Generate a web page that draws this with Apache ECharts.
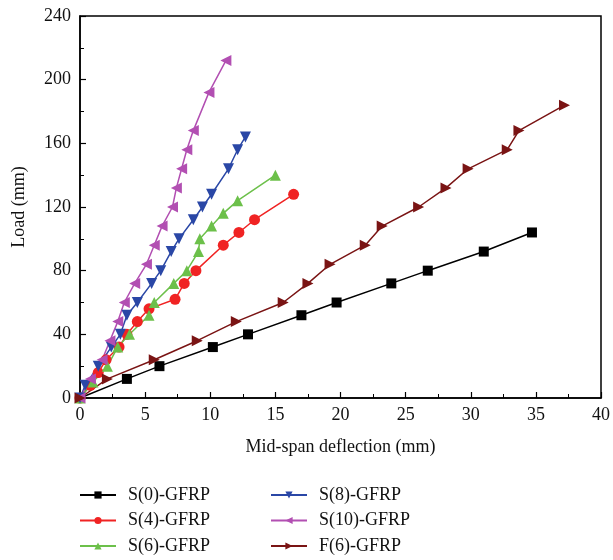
<!DOCTYPE html>
<html><head><meta charset="utf-8">
<script src="https://cdn.jsdelivr.net/npm/echarts@6/dist/echarts.min.js"></script>
<style>html,body{margin:0;padding:0;background:#fff}#c{width:613px;height:560px}</style>
</head><body><div id="c"></div>
<script>
const seriesNames = ['S(0)-GFRP','S(4)-GFRP','S(6)-GFRP','S(8)-GFRP','S(10)-GFRP','F(6)-GFRP'];
const s0 = [[0,0],[3.6,12],[6.1,20],[10.2,32],[12.9,40],[17,52],[19.7,60],[23.9,72],[26.7,80],[31,92],[34.7,104]];
const s4 = [[0,0],[0.8,8],[1.4,16],[2,24],[3,32],[3.6,40],[4.4,48],[5.3,56],[7.3,62],[8,72],[8.9,80],[11,96],[12.2,104],[13.4,112],[16.4,128]];
const s6 = [[0,0],[1,10],[2.1,20],[2.9,32],[3.8,40],[5.3,52],[5.7,60],[7.2,72],[8.2,80],[9.1,92],[9.2,100],[10.1,108],[11,116],[12.1,124],[15,140]];
const s8 = [[0,0],[0.4,8],[1.4,20],[2.4,32],[3.1,40],[3.6,52],[4.4,60],[5.5,72],[6.2,80],[7,92],[7.6,100],[8.7,112],[9.4,120],[10.1,128],[11.4,144],[12.1,156],[12.7,164]];
const s10 = [[0,0],[0.8,12],[1.7,24],[2.3,36],[2.9,48],[3.4,60],[4.2,72],[5.1,84],[5.7,96],[6.3,108],[7.1,120],[7.4,132],[7.8,144],[8.2,156],[8.7,168],[9.9,192],[11.2,212]];
const f6 = [[0,0],[2.1,12],[5.7,24],[9,36],[12,48],[15.6,60],[17.5,72],[19.2,84],[21.9,96],[23.2,108],[26,120],[28.1,132],[29.8,144],[32.8,156],[33.7,168],[37.2,184]];
const xTicks = [0,5,10,15,20,25,30,35,40];
const yTicks = [0,40,80,120,160,200,240];

const dataAll = [s0,s4,s6,s8,s10,f6];
const colors = ['#000000','#f02323','#6cc04a','#2a47a6','#b24fb2','#7a1414'];
const symbols = ['rect','circle','triangle','triangle','triangle','triangle'];
const rotates = [0,0,0,180,90,-90];
const sizes = [10,11,11,11,11,11];
const font = '"Liberation Serif", "DejaVu Serif", serif';

const chart = echarts.init(document.getElementById('c'));
const series = seriesNames.map((n,i)=>({
  name:n, type:'line', data:dataAll[i], symbol:symbols[i], symbolRotate:rotates[i], symbolSize:sizes[i],
  showAllSymbol:true, color:colors[i], lineStyle:{width:1.5,color:colors[i]}, itemStyle:{color:colors[i]},
  animation:false, z: 2
}));
const legendCommon = {orient:'vertical', itemWidth:36, itemHeight:9, itemGap:7.5, height:120,
  textStyle:{fontFamily:font,fontSize:18,lineHeight:18,color:'#111',padding:[0,0,0,7]}, top:481};
chart.setOption({
  backgroundColor:'#fff',
  animation:false,
  grid:{left:80,top:16,right:11,bottom:162,show:true,borderColor:'#000',borderWidth:1.5,backgroundColor:'transparent'},
  legend:[
    Object.assign({},legendCommon,{left:74,data:seriesNames.slice(0,3)}),
    Object.assign({},legendCommon,{left:265,data:seriesNames.slice(3,6)})
  ],
  xAxis:{type:'value',min:xTicks[0],max:xTicks[xTicks.length-1],interval:5,
    name:'Mid-span deflection (mm)',nameLocation:'middle',nameGap:40,
    nameTextStyle:{fontFamily:font,fontSize:18,color:'#111'},
    axisLine:{show:true,onZero:false,lineStyle:{color:'#000',width:1.5}},
    axisTick:{show:true,inside:true,length:6,lineStyle:{color:'#000',width:1.2}},
    minorTick:{show:true,splitNumber:2,length:4,lineStyle:{color:'#000',width:1}},
    axisLabel:{fontFamily:font,fontSize:18,color:'#111',margin:8},
    splitLine:{show:false}},
  yAxis:{type:'value',min:yTicks[0],max:yTicks[yTicks.length-1],interval:40,
    name:'Load (mm)',nameLocation:'middle',nameGap:52,nameRotate:90,
    nameTextStyle:{fontFamily:font,fontSize:18,color:'#111'},
    axisLine:{show:true,onZero:false,lineStyle:{color:'#000',width:1.5}},
    axisTick:{show:true,inside:true,length:6,lineStyle:{color:'#000',width:1.2}},
    minorTick:{show:true,splitNumber:2,length:4,lineStyle:{color:'#000',width:1}},
    axisLabel:{fontFamily:font,fontSize:18,color:'#111',margin:9},
    splitLine:{show:false}},
  series
});
</script></body></html>
